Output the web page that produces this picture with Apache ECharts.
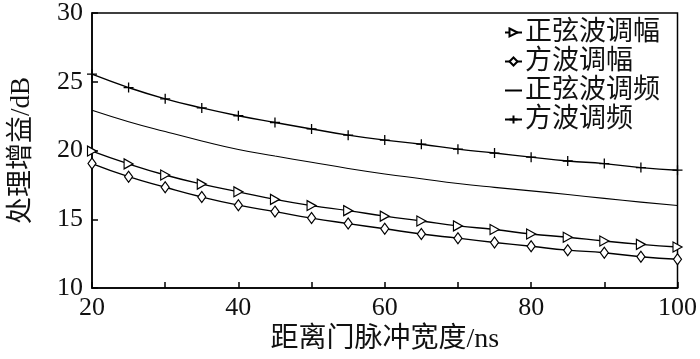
<!DOCTYPE html>
<html><head><meta charset="utf-8">
<script src="https://cdn.jsdelivr.net/npm/echarts@6/dist/echarts.min.js"></script>
<style>html,body{margin:0;padding:0;background:#fff}#c{width:700px;height:359px}</style>
</head><body><div id="c"></div>
<script>
var xValues = [20,25,30,35,40,45,50,55,60,65,70,75,80,85,90,95,100];
var seriesNames = ['正弦波调幅','方波调幅','正弦波调频','方波调频'];
var sineAM = [19.96,19.03,18.22,17.56,17.0,16.45,16.0,15.63,15.23,14.88,14.52,14.26,13.93,13.70,13.42,13.18,12.99];
var squareAM = [19.05,18.1,17.33,16.62,16.03,15.56,15.09,14.69,14.31,13.93,13.63,13.32,13.04,12.76,12.57,12.28,12.10];
var sineFM = [22.93,22.1,21.38,20.7,20.08,19.6,19.15,18.7,18.3,17.95,17.6,17.32,17.07,16.8,16.52,16.25,16.0];
var squareFM = [25.55,24.58,23.76,23.1,22.53,22.04,21.57,21.12,20.76,20.46,20.1,19.82,19.52,19.24,19.05,18.76,18.57];
var yTicks = {min:10, max:30, interval:5};
var xTicks = {min:20, max:100, interval:10, labelStep:20};

function pairs(arr){ return xValues.map(function(x,i){ return [x, arr[i]]; }); }
var serif = "Liberation Serif, Times New Roman, Noto Sans CJK SC, serif";
var chart = echarts.init(document.getElementById('c'));
var lineStyle = {color:'#000', width:1.4};
var hollow = {color:'#fff', borderColor:'#000', borderWidth:1.2};
chart.setOption({
  animation:false,
  grid:{left:91, right:18, top:11, bottom:67, show:true, borderColor:'#000', borderWidth:1.5, backgroundColor:'transparent'},
  legend:{
    orient:'vertical', left:499, top:14, itemWidth:17, itemHeight:10, itemGap:2,
    textStyle:{fontFamily:serif, fontSize:27, color:'#111', lineHeight:27, padding:[0,0,0,-2]},
    data:[
      {name:seriesNames[0]},
      {name:seriesNames[1]},
      {name:seriesNames[2], itemStyle:{opacity:0}},
      {name:seriesNames[3]}
    ]
  },
  xAxis:{
    type:'value', min:xTicks.min, max:xTicks.max, interval:xTicks.interval,
    axisLine:{show:true, lineStyle:{color:'#000', width:1.5}},
    axisTick:{show:true, inside:true, length:6, lineStyle:{color:'#000', width:1.5}},
    axisLabel:{fontFamily:serif, fontSize:26, color:'#111', margin:7,
      formatter:function(v){ return v % xTicks.labelStep === 0 ? String(v) : ''; }},
    splitLine:{show:false},
    name:'距离门脉冲宽度/ns', nameLocation:'middle', nameGap:36,
    nameTextStyle:{fontFamily:serif, fontSize:28, color:'#111'}
  },
  yAxis:{
    type:'value', min:yTicks.min, max:yTicks.max, interval:yTicks.interval,
    axisLine:{show:true, lineStyle:{color:'#000', width:1.5}},
    axisTick:{show:true, inside:true, length:6, lineStyle:{color:'#000', width:1.5}},
    axisLabel:{fontFamily:serif, fontSize:26, color:'#111', margin:9},
    splitLine:{show:false},
    name:'处理增益/dB', nameLocation:'middle', nameGap:57,
    nameTextStyle:{fontFamily:serif, fontSize:27, color:'#111'}
  },
  series:[
    {name:seriesNames[0], type:'line', smooth:true, data:pairs(sineAM),
     symbol:'path://M0,0 L10,5 L0,10 Z', symbolSize:[9,10], showAllSymbol:true,
     lineStyle:lineStyle, itemStyle:hollow},
    {name:seriesNames[1], type:'line', smooth:true, data:pairs(squareAM),
     symbol:'diamond', symbolSize:[8,11], showAllSymbol:true,
     lineStyle:lineStyle, itemStyle:hollow},
    {name:seriesNames[2], type:'line', smooth:true, data:pairs(sineFM),
     symbol:'none', lineStyle:{color:'#000', width:1.1}, itemStyle:{color:'#000'}},
    {name:seriesNames[3], type:'line', smooth:true, data:pairs(squareFM),
     symbol:'path://M5,0 L5,10 M0,5 L10,5', symbolSize:10, showAllSymbol:true,
     lineStyle:lineStyle, itemStyle:{color:'none', borderColor:'#000', borderWidth:1.3}}
  ]
});
</script></body></html>
